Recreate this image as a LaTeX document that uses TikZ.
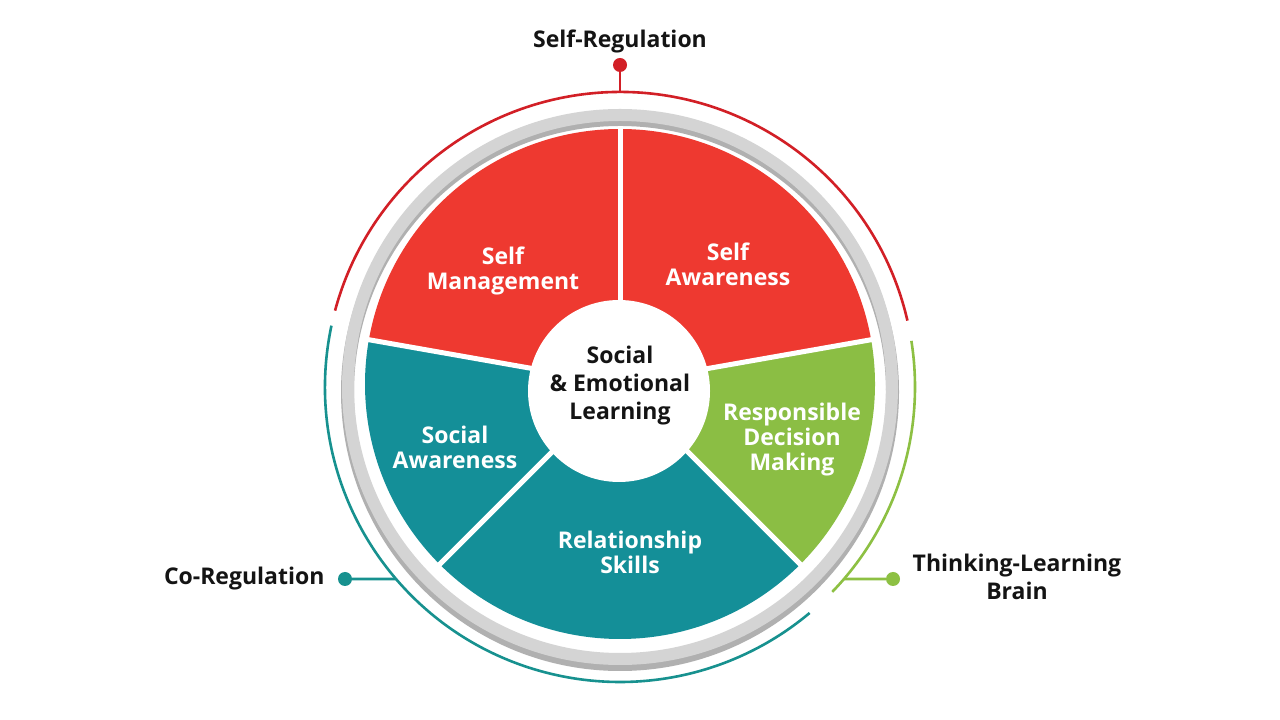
\documentclass[tikz,border=0pt]{standalone}
\usepackage{fontspec}
\setmainfont{Open Sans}
\usetikzlibrary{calc}
\definecolor{segred}{HTML}{EE3930}
\definecolor{segteal}{HTML}{148F98}
\definecolor{seggreen}{HTML}{8BBE44}
\definecolor{arcred}{HTML}{D21F26}
\definecolor{arcteal}{HTML}{17918F}
\definecolor{arcgreen}{HTML}{8DC043}
\definecolor{ringgray}{HTML}{D4D4D4}
\definecolor{ringshadow}{HTML}{B0B0B0}
\definecolor{txt}{HTML}{141414}
\tikzset{
  seglabel/.style={text=white, align=center, font=\fontsize{23}{25}\selectfont\bfseries},
  outlabel/.style={text=txt, align=center, font=\fontsize{23}{28}\selectfont\bfseries},
  sepline/.style={draw=white, line width=5pt},
  arcline/.style={line width=2.6pt},
  dotnode/.style={circle, inner sep=0pt, minimum size=14pt},
}
\begin{document}
\begin{tikzpicture}[x=1pt,y=1pt]
\useasboundingbox (0,0) rectangle (1280,720);
\fill[white] (0,0) rectangle (1280,720);
\coordinate (P) at (620,336);
\coordinate (R) at (620,333);
% gray ring with shadow
\fill[ringshadow, even odd rule] ([yshift=-5]R) circle (279) ([yshift=-5]R) circle (266);
\fill[ringgray, even odd rule] (R) circle (278) (R) circle (266);
% sectors
\fill[segred] (P) -- ++(10:255) arc[start angle=10, end angle=90, radius=255] -- cycle;
\fill[segred] (P) -- ++(90:255) arc[start angle=90, end angle=170, radius=255] -- cycle;
\fill[segteal] (P) -- ++(170:255) arc[start angle=170, end angle=225, radius=255] -- cycle;
\fill[segteal] (P) -- ++(225:255) arc[start angle=225, end angle=315, radius=255] -- cycle;
\fill[seggreen] (P) -- ++(315:255) arc[start angle=315, end angle=370, radius=255] -- cycle;
% separators
\foreach \a in {10,90,170,225,315} \draw[sepline] (P) -- ++(\a:258);
% center
\node[circle, fill=white, minimum size=182pt, inner sep=0pt] (core) at (619,329) {};
\node[outlabel, font=\fontsize{23}{28}\selectfont\bfseries] (sel) at (620,334) {Social\\\& Emotional\\Learning};
% segment labels
\node[seglabel] (sm) at (503,449) {Self\\Management};
\node[seglabel] (sa) at (728,456) {Self\\Awareness};
\node[seglabel] (rdm) at (792,280) {Responsible\\Decision\\Making};
\node[seglabel] (soa) at (455,273) {Social\\Awareness};
\node[seglabel] (rs) at (630,168) {Relationship\\Skills};
% outer arcs
\draw[arcline, arcred] (R) ++(13:295) arc[start angle=13, end angle=165, radius=295];
\draw[arcline, arcteal] (R) ++(168:295) arc[start angle=168, end angle=310, radius=295];
\draw[arcline, arcgreen] (R) ++(-44:295) arc[start angle=-44, end angle=9, radius=295];
% connector anchor points on arcs
\coordinate (srtop) at ($(R)+(90:295)$);
\coordinate (cotop) at ($(R)+(220.6:295)$);
\coordinate (tltop) at ($(R)+(-40.6:295)$);
% Self-Regulation
\node[dotnode, fill=arcred] (srdot) at (620,655) {};
\draw[arcline, arcred] (srdot) -- (srtop);
\node[outlabel] (sr) at (620,679) {Self-Regulation};
% Co-Regulation
\node[dotnode, fill=arcteal] (codot) at (345,141) {};
\draw[arcline, arcteal] (codot) -- (cotop);
\node[outlabel, anchor=east] (co) at (328,141) {Co-Regulation};
% Thinking-Learning Brain
\node[dotnode, fill=arcgreen] (tldot) at (893,141) {};
\draw[arcline, arcgreen] (tldot) -- (tltop);
\node[outlabel] (tl) at (1017,143) {Thinking-Learning\\Brain};
\end{tikzpicture}
\end{document}
